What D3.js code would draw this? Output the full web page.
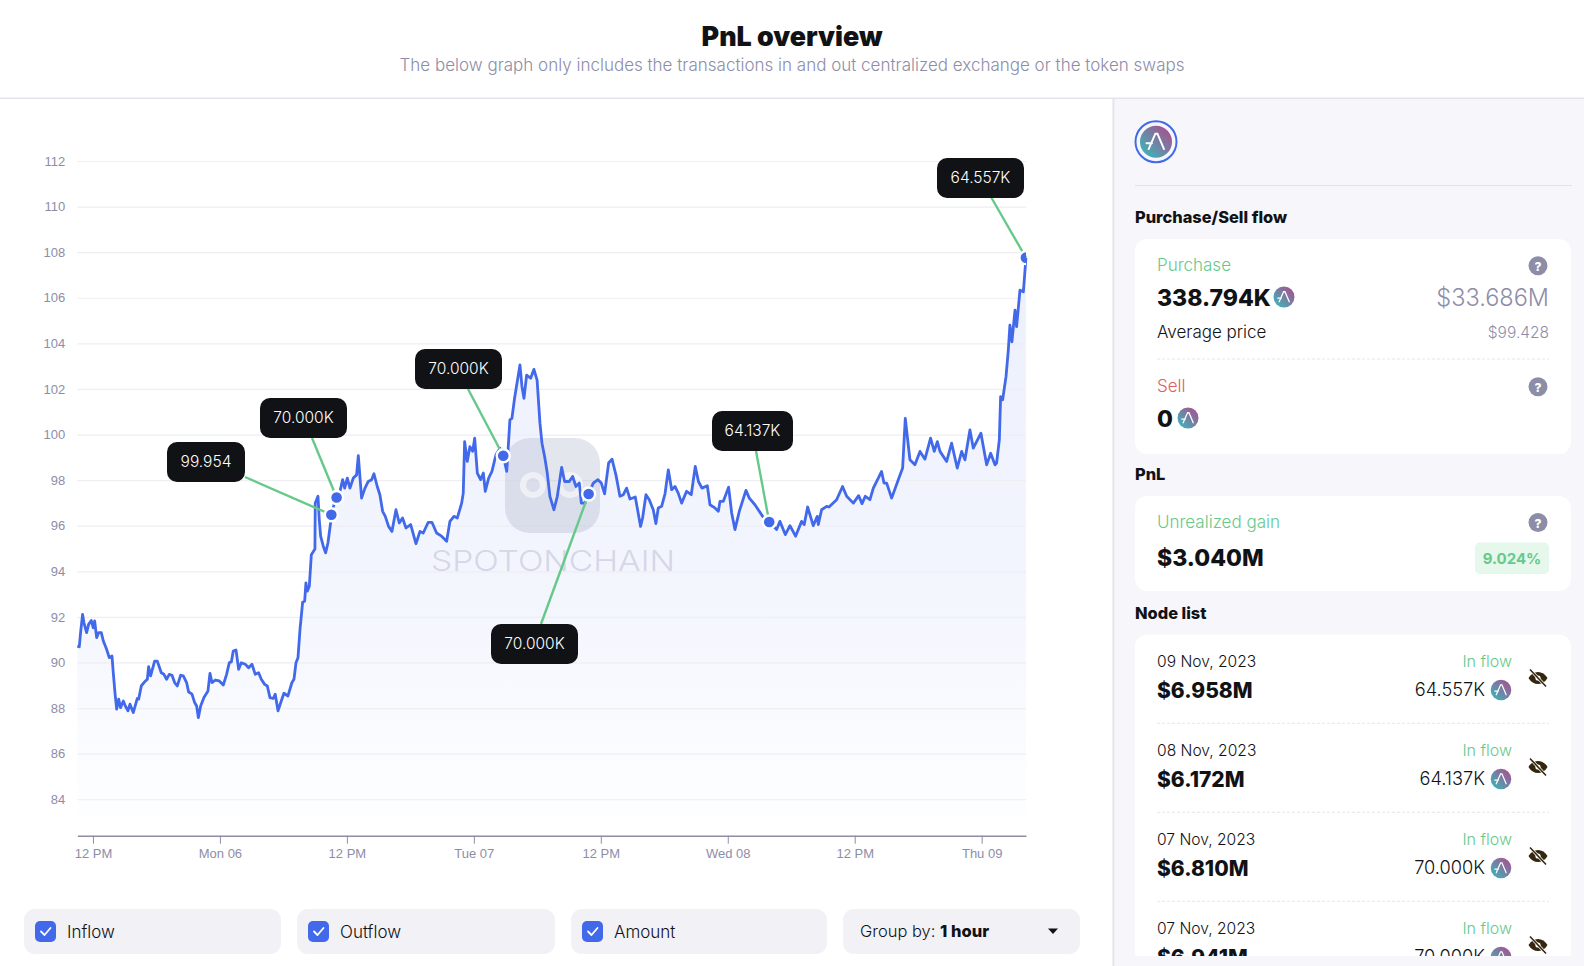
<!DOCTYPE html>
<html><head><meta charset="utf-8">
<script src="https://cdn.jsdelivr.net/npm/d3@7/dist/d3.min.js"></script>
<style>html,body{margin:0;padding:0;background:#fff;overflow:hidden}svg{display:block}</style>
</head><body><div id="root"></div>
<script>
// ---------- data ----------
const startTime = Date.UTC(2023, 10, 5, 12); // 12 PM, Sun 05 Nov 2023
const hours = [-1.48,-1.29,-1.17,-0.98,-0.85,-0.60,-0.41,-0.16,0.03,0.16,0.35,0.54,0.79,0.98,1.29,1.54,1.80,1.92,2.08,2.24,2.43,2.61,2.87,3.06,3.31,3.50,3.81,4.19,4.32,4.57,4.82,5.14,5.26,5.45,5.83,6.08,6.46,6.71,6.96,7.21,7.47,7.72,7.97,8.29,8.54,8.85,9.04,9.36,9.61,9.80,9.96,10.18,10.49,10.87,11.06,11.25,11.56,11.94,12.32,12.63,12.89,13.08,13.26,13.52,13.77,14.02,14.40,14.71,15.03,15.34,15.66,15.91,16.23,16.48,16.73,17.04,17.23,17.49,17.80,18.05,18.43,18.81,19.00,19.19,19.38,19.57,19.82,20.01,20.13,20.26,20.45,20.64,20.98,21.01,21.27,21.39,21.52,21.77,21.99,22.21,22.46,22.53,22.78,23.03,23.35,23.60,23.79,24.04,24.29,24.61,24.92,25.08,25.39,25.71,26.02,26.34,26.56,26.87,27.12,27.38,27.63,27.94,28.26,28.64,28.95,29.26,29.59,30.03,30.53,30.91,31.22,31.69,32.04,32.48,32.95,33.43,33.74,34.12,34.44,34.85,35.00,35.13,35.38,35.63,35.89,36.08,36.33,36.64,36.90,37.08,37.40,37.71,38.09,38.47,38.78,39.11,39.41,39.60,39.85,40.36,40.55,40.74,40.99,41.37,41.68,41.98,42.25,42.44,42.69,42.94,43.19,43.57,43.89,44.30,44.58,45.02,45.34,45.65,45.97,46.16,46.50,46.85,47.29,47.73,48.05,48.36,48.74,49.06,49.43,49.81,50.13,50.44,50.76,51.26,51.76,51.95,52.27,52.58,52.96,53.21,53.43,53.75,54.07,54.38,54.70,55.01,55.32,55.64,56.11,56.55,56.93,57.23,57.56,58.07,58.32,58.79,59.11,59.27,59.58,60.08,60.37,60.68,61.09,61.72,62.04,62.57,63.30,63.92,64.62,64.93,65.44,65.88,66.41,66.98,67.23,67.55,68.08,68.46,68.56,68.87,69.35,69.57,70.29,70.85,71.24,71.87,72.37,72.69,73.00,73.44,73.76,74.23,74.54,74.77,75.02,75.49,76.12,76.53,76.78,77.22,77.69,78.17,78.64,79.17,79.52,79.81,80.06,80.69,81.16,81.69,82.11,82.42,82.89,83.21,83.93,84.47,84.85,85.26,85.41,85.67,85.79,85.98,86.30,86.52,86.67,86.86,87.15,87.30,87.62,87.94,88.12,88.18];
const prices = [90.72,90.69,91.31,92.11,91.74,91.31,91.67,91.84,91.52,91.82,91.09,91.31,91.31,90.94,90.58,90.21,90.28,89.55,88.68,87.95,88.39,88.02,88.31,88.09,87.88,88.17,87.80,88.42,88.39,88.97,89.12,89.26,89.82,89.41,90.06,90.06,89.55,89.48,89.26,89.48,89.44,89.12,88.97,89.44,89.41,89.12,88.71,88.61,88.24,88.09,87.58,88.09,88.46,88.75,89.52,89.12,89.23,89.19,89.01,89.48,89.99,90.02,90.50,90.55,89.70,89.99,89.92,89.77,89.92,89.48,89.55,89.26,89.04,88.97,88.46,88.42,88.61,87.88,88.31,88.65,88.53,89.12,89.26,89.99,90.21,91.45,92.65,92.69,93.49,93.13,93.35,94.73,94.98,96.99,97.29,96.26,95.54,95.10,94.81,95.24,96.12,96.48,96.92,97.24,97.51,98.02,97.65,98.09,97.65,98.09,98.23,99.07,97.21,97.65,97.94,98.02,98.28,97.72,97.36,96.63,96.41,95.97,95.75,96.70,96.12,96.34,95.90,96.05,95.21,95.75,95.68,96.15,96.15,95.68,95.54,95.32,96.19,96.41,96.34,96.99,97.43,99.69,98.82,99.47,99.26,99.84,98.31,98.02,98.31,97.51,98.09,98.38,99.11,99.40,99.07,98.38,100.64,100.71,101.59,103.05,102.10,101.59,102.61,102.47,102.86,102.39,100.50,99.62,99.04,98.31,97.29,96.70,97.29,98.56,97.94,97.94,98.16,97.72,97.87,96.99,96.99,97.39,97.87,98.02,97.87,97.40,98.75,98.92,98.23,97.29,97.36,97.65,97.17,97.26,95.97,96.34,97.36,97.14,96.70,96.09,96.78,96.85,97.40,98.45,97.58,97.72,97.43,96.99,97.51,97.36,98.60,97.94,97.65,97.75,96.92,96.78,96.63,97.07,97.07,97.69,96.56,95.83,96.63,97.55,97.21,96.92,96.41,96.16,95.83,96.19,95.61,96.00,95.54,96.19,96.05,96.82,96.00,96.41,96.05,96.70,96.85,96.82,97.14,97.72,97.29,96.99,97.32,96.97,97.29,97.14,97.65,98.09,98.38,97.87,97.87,97.21,98.02,98.53,100.71,98.89,98.67,99.26,98.92,99.84,99.26,99.69,99.26,98.82,99.62,98.53,99.26,98.89,100.20,99.40,100.06,98.67,99.18,98.67,98.75,99.77,101.66,101.52,102.54,103.71,104.80,104.07,105.46,104.73,106.33,106.26,107.35,107.76];

const yTicks = [84,86,88,90,92,94,96,98,100,102,104,106,108,110,112];
const xTickHours = [0,12,24,36,48,60,72,84];
const xTickLabels = ["12 PM","Mon 06","12 PM","Tue 07","12 PM","Wed 08","12 PM","Thu 09"];

const nodeHours = [22.53,23.03,38.78,46.85,63.92,88.18];
const nodePrices = [96.48,97.24,99.07,97.39,96.16,107.76];
const nodeLabels = ["99.954","70.000K","70.000K","70.000K","64.137K","64.557K"];

const listDates = ["09 Nov, 2023","08 Nov, 2023","07 Nov, 2023","07 Nov, 2023"];
const listUsd = ["$6.958M","$6.172M","$6.810M","$6.941M"];
const listAmounts = ["64.557K","64.137K","70.000K","70.000K"];
const toggles = ["Inflow","Outflow","Amount"];

// ---------- layout of the callout boxes ----------
const calloutLayout = [
  {x:167,y:442,w:78,ax:245,ay:477},
  {x:260,y:398,w:87,ax:312,ay:438},
  {x:415,y:349,w:87,ax:468,ay:389},
  {x:491,y:624,w:87,ax:541,ay:624},
  {x:712,y:411,w:81,ax:756,ay:451},
  {x:937,y:158,w:87,ax:991,ay:197}
];
const W=1584,H=966;
const FONT="Inter, 'Noto Sans', sans-serif";
const AXF="'Liberation Sans', Arial, sans-serif";
const BLUE="#4169ea", GREEN="#66c98a", DARK="#111215", GREY="#8e8da8";

const svg=d3.select("#root").append("svg").attr("width",W).attr("height",H).attr("viewBox",[0,0,W,H]);
const defs=svg.append("defs");

const tg=defs.append("linearGradient").attr("id","tok").attr("x1","10%").attr("y1","90%").attr("x2","90%").attr("y2","10%");
tg.append("stop").attr("offset","0%").attr("stop-color","#3cb4b9");
tg.append("stop").attr("offset","100%").attr("stop-color","#a8508f");
const ag=defs.append("linearGradient").attr("id","area").attr("x1",0).attr("y1",0).attr("x2",0).attr("y2",1);
ag.append("stop").attr("offset","0%").attr("stop-color","#4169ea").attr("stop-opacity",.10);
ag.append("stop").attr("offset","60%").attr("stop-color","#4169ea").attr("stop-opacity",.06);
ag.append("stop").attr("offset","100%").attr("stop-color","#4169ea").attr("stop-opacity",0);

function text(g,x,y,s,o={}){
  return g.append("text").attr("x",x).attr("y",y).attr("dominant-baseline","central")
    .attr("font-family",o.family||FONT).attr("font-size",o.size||16).attr("font-weight",o.weight||400)
    .attr("fill",o.fill||DARK).attr("text-anchor",o.anchor||"start")
    .attr("letter-spacing",o.ls||null).text(s);
}
function token(g,cx,cy,r){
  const t=g.append("g").attr("transform",`translate(${cx},${cy})`);
  t.append("circle").attr("r",r).attr("fill","url(#tok)");
  const k=r/10;
  t.append("path").attr("d",`M${-4.6*k},${4.6*k} L${-0.4*k},${-5*k} L${0.9*k},${-5*k} L${5*k},${4.6*k} M${-6*k},${1*k} L${-2.5*k},${1*k}`)
    .attr("fill","none").attr("stroke","#fff").attr("stroke-width",1.2*k).attr("stroke-linecap","round");
}
function question(g,cx,cy){
  g.append("circle").attr("cx",cx).attr("cy",cy).attr("r",9.5).attr("fill",GREY);
  text(g,cx,cy+.5,"?",{size:12,weight:800,fill:"#fff",anchor:"middle"});
}
function eye(g,cx,cy){
  const e=g.append("g").attr("transform",`translate(${cx},${cy})`);
  e.append("path").attr("d","M-9.5,0 C-5,-8 5,-8 9.5,0 C5,8 -5,8 -9.5,0 Z").attr("fill","#35260f");
  e.append("circle").attr("r",2.6).attr("fill","#fff");
  e.append("line").attr("x1",-8).attr("y1",-8.5).attr("x2",8).attr("y2",8.5).attr("stroke","#fff").attr("stroke-width",3);
  e.append("line").attr("x1",-8).attr("y1",-8.5).attr("x2",8).attr("y2",8.5).attr("stroke","#35260f").attr("stroke-width",1.6);
}

// ---------- page frame ----------
svg.append("rect").attr("width",W).attr("height",H).attr("fill","#fff");
svg.append("rect").attr("x",1113).attr("y",98).attr("width",W-1113).attr("height",H-98).attr("fill","#f6f6fb");
svg.append("rect").attr("x",1112.5).attr("y",98).attr("width",1.8).attr("height",H-98).attr("fill","#e2e3e9");
svg.append("rect").attr("x",0).attr("y",97.5).attr("width",W).attr("height",1.5).attr("fill","#e4e5ea");
const head=svg.append("g");
text(head,792,35.5,"PnL overview",{size:26.8,weight:900,anchor:"middle"}).attr("id","title");
text(head,792,65,"The below graph only includes the transactions in and out centralized exchange or the token swaps",{size:17,weight:300,fill:GREY,anchor:"middle"});

// ---------- chart ----------
const x=d3.scaleUtc().domain([startTime-1.48*36e5,startTime+88.19*36e5]).range([77.3,1026]);
const y=d3.scaleLinear().domain([82.40,112]).range([835.7,161]);
const series=hours.map((h,i)=>({t:new Date(startTime+h*36e5),v:prices[i]}));
const chart=svg.append("g");

chart.append("path").datum(series).attr("fill","url(#area)")
  .attr("d",d3.area().x(d=>x(d.t)).y0(y.range()[0]).y1(d=>y(d.v)));

const grid=chart.append("g").call(d3.axisLeft(y).tickValues(yTicks).tickSize(-(x.range()[1]-x.range()[0])).tickPadding(12).tickFormat(d3.format("d")))
  .attr("transform",`translate(${x.range()[0]},0)`);
grid.select(".domain").remove();
grid.selectAll("line").attr("stroke","#eeeef3").attr("stroke-width",1.2);
grid.selectAll("text").attr("font-family",AXF).attr("font-size",13).attr("fill",GREY);

// watermark
const wm=chart.append("g");
wm.append("rect").attr("x",505).attr("y",438).attr("width",95).attr("height",95).attr("rx",25).attr("fill","#9ca1bd").attr("fill-opacity",.27);
wm.append("circle").attr("cx",533).attr("cy",485).attr("r",10).attr("fill","none").attr("stroke","#fff").attr("stroke-opacity",.55).attr("stroke-width",6);
wm.append("circle").attr("cx",570).attr("cy",485).attr("r",10).attr("fill","none").attr("stroke","#fff").attr("stroke-opacity",.55).attr("stroke-width",6);
const wmText=text(wm,431,561,"SPOTONCHAIN",{family:FONT,size:28,weight:300,fill:"#d5d7e6"});
wmText.attr("textLength",244).attr("lengthAdjust","spacingAndGlyphs");

chart.append("path").datum(series).attr("fill","none").attr("stroke",BLUE).attr("stroke-width",2.8).attr("stroke-linejoin","round")
  .attr("d",d3.line().x(d=>x(d.t)).y(d=>y(d.v)));

const xAxis=chart.append("g").attr("transform",`translate(0,${y.range()[0]})`)
  .call(d3.axisBottom(x).tickValues(xTickHours.map(h=>new Date(startTime+h*36e5))).tickSizeInner(8).tickSizeOuter(0).tickPadding(5).tickFormat((d,i)=>xTickLabels[i]));
xAxis.select(".domain").attr("stroke",GREY).attr("stroke-width",1.5);
xAxis.selectAll("line").attr("stroke",GREY).attr("stroke-width",1);
xAxis.selectAll("text").attr("font-family",AXF).attr("font-size",13).attr("fill",GREY);

// callouts
defs.append("clipPath").attr("id","plotclip").append("rect").attr("x",0).attr("y",0).attr("width",1026).attr("height",H);
const lines=chart.append("g");
const nodes=chart.append("g").attr("clip-path","url(#plotclip)");
nodeHours.forEach((h,i)=>{
  const px=x(new Date(startTime+h*36e5)),py=y(nodePrices[i]),c=calloutLayout[i];
  lines.append("line").attr("x1",c.ax).attr("y1",c.ay).attr("x2",px).attr("y2",py).attr("stroke",GREEN).attr("stroke-width",2.4);
});
nodeHours.forEach((h,i)=>{
  const px=x(new Date(startTime+h*36e5)),py=y(nodePrices[i]);
  nodes.append("circle").attr("cx",px).attr("cy",py).attr("r",6.5).attr("fill",BLUE).attr("stroke","#fff").attr("stroke-width",2.4);
});
const boxes=chart.append("g");
nodeLabels.forEach((s,i)=>{
  const c=calloutLayout[i];
  boxes.append("rect").attr("x",c.x).attr("y",c.y).attr("width",c.w).attr("height",40).attr("rx",10).attr("fill",DARK);
  text(boxes,c.x+c.w/2,c.y+19,s,{size:15.5,weight:300,fill:"#fff",anchor:"middle"});
});

// ---------- toggles ----------
const tog=svg.append("g");
const pillX=[24,297,571],pillW=[257,258,256];
toggles.forEach((s,i)=>{
  tog.append("rect").attr("x",pillX[i]).attr("y",909).attr("width",pillW[i]).attr("height",45).attr("rx",11).attr("fill","#f1f1f6");
  tog.append("rect").attr("x",pillX[i]+11).attr("y",921).attr("width",21).attr("height",21).attr("rx",5).attr("fill",BLUE);
  tog.append("path").attr("d",`M${pillX[i]+17},${931.5} l3.5,3.5 l6,-7`).attr("fill","none").attr("stroke","#fff").attr("stroke-width",1.8).attr("stroke-linecap","round").attr("stroke-linejoin","round");
  text(tog,pillX[i]+43,932,s,{size:17,weight:300});
});
tog.append("rect").attr("x",843).attr("y",909).attr("width",237).attr("height",45).attr("rx",11).attr("fill","#f1f1f6");
const gb=text(tog,860,931,"",{size:16.5,weight:300});
gb.append("tspan").text("Group by: ");
gb.append("tspan").attr("font-weight",800).text("1 hour");
tog.append("path").attr("d","M1048,928.5 h10 l-5,5.5 Z").attr("fill",DARK);

// ---------- right panel ----------
const rp=svg.append("g");
rp.append("circle").attr("cx",1156).attr("cy",141.7).attr("r",20.5).attr("fill","#f6f6fb").attr("stroke",BLUE).attr("stroke-width",2);
token(rp,1156,141.7,16);
rp.append("rect").attr("x",1135).attr("y",185).attr("width",437).attr("height",1).attr("fill","#e2e3e9");

text(rp,1135,217,"Purchase/Sell flow",{size:16.4,weight:800});
function card(y0,h){rp.append("rect").attr("x",1135).attr("y",y0).attr("width",436).attr("height",h).attr("rx",12).attr("fill","#fff");}
function dash(yy){rp.append("line").attr("x1",1157).attr("x2",1549).attr("y1",yy).attr("y2",yy).attr("stroke","#e6e6ec").attr("stroke-dasharray","3 2");}
card(239,215);
text(rp,1157,265,"Purchase",{size:17,weight:300,fill:GREEN});
question(rp,1538,265.7);
text(rp,1157,297.5,"338.794K",{size:23,weight:800});
token(rp,1284,297,10.5);
text(rp,1549,297.5,"$33.686M",{size:23.5,weight:300,fill:GREY,anchor:"end"});
text(rp,1157,332,"Average price",{size:17,weight:300});
text(rp,1549,332,"$99.428",{size:15.5,weight:300,fill:GREY,anchor:"end"});
dash(359);
text(rp,1157,386,"Sell",{size:17,weight:300,fill:"#e0605f"});
question(rp,1538,386.7);
text(rp,1157,418.5,"0",{size:23,weight:800});
token(rp,1188,418,10.5);

text(rp,1135,474,"PnL",{size:16.4,weight:800});
card(496,95);
text(rp,1157,522,"Unrealized gain",{size:17,weight:300,fill:GREEN});
question(rp,1538,522.5);
text(rp,1157,557.5,"$3.040M",{size:23,weight:800});
rp.append("rect").attr("x",1475).attr("y",542.5).attr("width",74).attr("height",31.5).attr("rx",5).attr("fill","#e6f7ec");
text(rp,1512,558,"9.024%",{size:15,weight:700,fill:GREEN,anchor:"middle"});

text(rp,1135,612.5,"Node list",{size:16.4,weight:800});
defs.append("clipPath").attr("id","listclip").append("rect").attr("x",1135).attr("y",634.5).attr("width",436).attr("height",321.5);
card(634.5,321.5);
rp.append("rect").attr("x",1135).attr("y",940).attr("width",436).attr("height",16).attr("fill","#fff");
const list=rp.append("g").attr("clip-path","url(#listclip)");
listDates.forEach((d,i)=>{
  const o=i*89;
  text(list,1157,661+o,d,{size:15.6,weight:300});
  text(list,1157,690+o,listUsd[i],{size:21,weight:800});
  text(list,1512,661+o,"In flow",{size:16,weight:300,fill:GREEN,anchor:"end"});
  text(list,1485,689+o,listAmounts[i],{size:18.2,weight:300,anchor:"end"});
  token(list,1501,690+o,10.3);
  eye(list,1538,678+o);
  if(i<3) list.append("line").attr("x1",1157).attr("x2",1549).attr("y1",723.3+o).attr("y2",723.3+o).attr("stroke","#e6e6ec").attr("stroke-dasharray","3 2");
});
</script></body></html>
